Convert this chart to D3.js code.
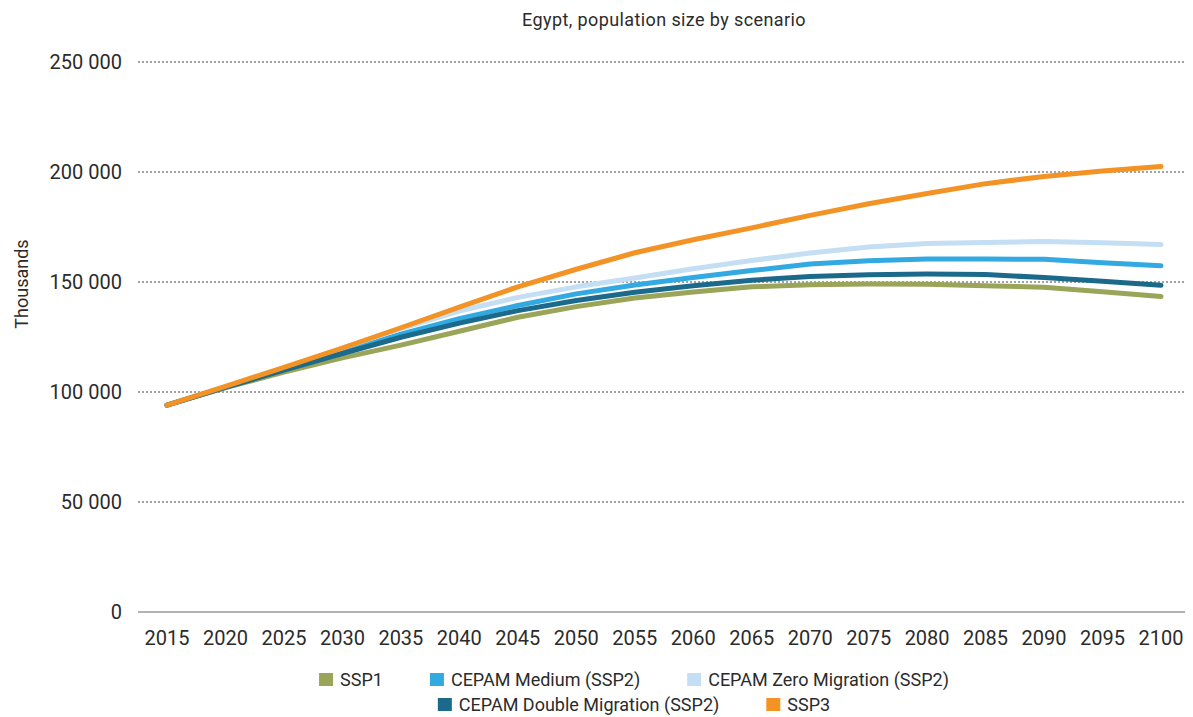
<!DOCTYPE html>
<html><head><meta charset="utf-8">
<script src="https://cdn.jsdelivr.net/npm/d3@7"></script>
<style>body{margin:0;background:#fff}svg{display:block}text{font-family:Roboto,"Open Sans",sans-serif;fill:#2b2b2b}</style>
</head><body>
<svg id="c" width="1193" height="717"></svg>
<script>
const years = [2015,2020,2025,2030,2035,2040,2045,2050,2055,2060,2065,2070,2075,2080,2085,2090,2095,2100];
const yTicks = [0,50000,100000,150000,200000,250000];
const ssp1 = [94000,102000,109000,115500,121300,127600,134000,138800,142700,145500,147800,148700,149100,149000,148300,147600,145600,143400];
const cepamMedium = [94000,102200,110300,118300,126300,133300,139300,144600,148600,152000,155200,158200,159700,160400,160400,160300,158800,157400];
const cepamZero = [94000,102300,110800,120000,128800,136800,143000,147800,151800,156000,159800,163200,165900,167500,168000,168400,167800,167000];
const cepamDouble = [94000,102100,110000,117500,124900,131300,137000,141600,145300,148300,150800,152500,153300,153600,153400,152000,150300,148500];
const ssp3 = [94000,102600,111200,120000,129200,138600,147800,155800,163300,169200,174600,180300,185600,190200,194700,198000,200500,202500];
const seriesNames = ["SSP1","CEPAM Medium (SSP2)","CEPAM Zero Migration (SSP2)","CEPAM Double Migration (SSP2)","SSP3"];
const seriesColors = ["#9aa55a","#32a9e1","#c4def4","#1b6a8b","#f39325"];
const seriesData = [ssp1,cepamMedium,cepamZero,cepamDouble,ssp3];

const svg = d3.select("#c");
const x = d3.scalePoint().domain(years).range([167,1161]);
const y = d3.scaleLinear().domain([0,250000]).range([612,62]);
const fmt = v => d3.format(",")(v).replace(/,/g," ");

// grid
svg.append("g").selectAll("line").data(yTicks.filter(d=>d>0)).join("line")
  .attr("x1",138).attr("x2",1185).attr("y1",d=>y(d)).attr("y2",d=>y(d))
  .attr("stroke","#444").attr("stroke-width",1).attr("stroke-dasharray","2,2");
svg.append("line").attr("x1",138).attr("x2",1185).attr("y1",y(0)).attr("y2",y(0)).attr("stroke","#666").attr("stroke-width",1);

// y labels
svg.append("g").selectAll("text").data(yTicks).join("text")
  .attr("x",122).attr("y",d=>y(d)).attr("dy","0.35em").attr("text-anchor","end")
  .attr("font-size",20).text(fmt);
// x labels
svg.append("g").selectAll("text").data(years).join("text")
  .attr("x",d=>x(d)).attr("y",645).attr("text-anchor","middle")
  .attr("font-size",20).text(d=>d);

svg.append("text").attr("x",664).attr("y",26).attr("text-anchor","middle").attr("font-size",18).attr("letter-spacing","0.4px").text("Egypt, population size by scenario");
svg.append("text").attr("transform","translate(28,284) rotate(-90)").attr("text-anchor","middle").attr("font-size",18).text("Thousands");

const line = d3.line().x((d,i)=>x(years[i])).y(d=>y(d));
seriesData.forEach((s,k)=>{
  svg.append("path").attr("d",line(s)).attr("fill","none").attr("stroke",seriesColors[k])
    .attr("stroke-width",5).attr("stroke-linecap","round").attr("stroke-linejoin","round");
});

// legend
const rows = [[0,1,2],[3,4]];
const rowY = [680,705];
rows.forEach((r,ri)=>{
  const g = svg.append("g");
  let cx = 0;
  r.forEach((k,j)=>{
    const it = g.append("g").attr("transform",`translate(${cx},0)`);
    it.append("rect").attr("x",0).attr("y",-7).attr("width",14).attr("height",13).attr("fill",seriesColors[k]);
    const t = it.append("text").attr("x",21).attr("y",0).attr("dy","0.35em").attr("font-size",18).text(seriesNames[k]);
    cx += 21 + t.node().getComputedTextLength() + 47;
  });
  const w = cx - 47;
  g.attr("transform",`translate(${634 - w/2},${rowY[ri]})`);
});
</script>
</body></html>
